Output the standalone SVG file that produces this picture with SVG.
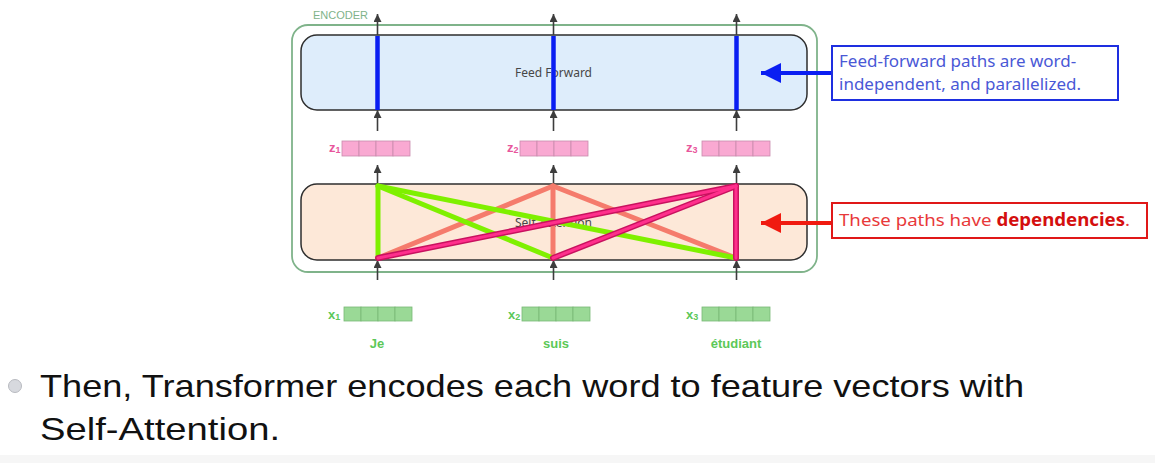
<svg xmlns="http://www.w3.org/2000/svg" width="1155" height="463" viewBox="0 0 1155 463">
<style>
.arr{stroke:#3d3d3d;stroke-width:1.6;fill:none;marker-end:url(#ah)}
.zc{fill:#f9a9d2;stroke:#c98aac;stroke-width:0.8}
.xc{fill:#9ad996;stroke:#79b876;stroke-width:0.8}
.zl{font-family:"Liberation Sans",Arial,sans-serif;font-size:13px;font-weight:bold;fill:#e8569c}
.xl{font-family:"Liberation Sans",Arial,sans-serif;font-size:13px;font-weight:bold;fill:#5cc858}
.word{font-family:"Liberation Sans",Arial,sans-serif;font-size:13px;font-weight:bold;fill:#5cc858;text-anchor:middle}
.box{stroke:#2e2e2e;stroke-width:1.5}
.lbl{font-family:"Noto Sans","Liberation Sans",sans-serif;font-size:12px;fill:#474747;text-anchor:middle}
.green{stroke:#7ff000;stroke-width:5;stroke-linecap:round}
.salmon{stroke:#f57b6c;stroke-width:5;stroke-linecap:round}
.pinko{stroke:#c8125f;stroke-width:6;stroke-linecap:round}
.pinki{stroke:#ff2f8c;stroke-width:3;stroke-linecap:round}
.blue{stroke:#0a1ef2;stroke-width:4.5}
.callout{font-family:"Noto Sans","Liberation Sans",sans-serif;font-size:17px}
</style>
<defs>
<marker id="ah" viewBox="0 0 10 10" refX="10" refY="5" markerWidth="5" markerHeight="5" orient="auto" markerUnits="strokeWidth">
<path d="M0,0 L10,5 L0,10 z" fill="#3d3d3d"/>
</marker>
<marker id="bh" viewBox="0 0 10 10" refX="10" refY="5" markerWidth="7" markerHeight="5" orient="auto" markerUnits="strokeWidth">
<path d="M0,0 L10,5 L0,10 z" fill="#0a1ef2"/>
</marker>
<marker id="rh" viewBox="0 0 10 10" refX="10" refY="5" markerWidth="7" markerHeight="5" orient="auto" markerUnits="strokeWidth">
<path d="M0,0 L10,5 L0,10 z" fill="#f01a10"/>
</marker>
</defs>
<rect width="1155" height="463" fill="#ffffff"/>
<rect x="0" y="455" width="1155" height="8" fill="#f6f6f6"/>

<g id="encoder">
<rect x="292" y="25" width="525" height="247" rx="16" fill="none" stroke="#7fb38a" stroke-width="1.8"/>
<text x="313" y="19" font-family="Liberation Sans,Arial,sans-serif" font-size="11" fill="#7fb38a">ENCODER</text>
</g>

<g id="feed-forward">
<rect class="box" x="301" y="35" width="506" height="75" rx="16" fill="#deedfb"/>
<text class="lbl" x="553.5" y="77">Feed Forward</text>
</g>

<g id="self-attention">
<rect class="box" x="301" y="184" width="506" height="76" rx="16" fill="#fde8d8"/>
<text class="lbl" x="553.5" y="227">Self-Attention</text>
</g>

<g id="z1"><text class="zl" x="329" y="152">z<tspan font-size="9" dy="1">1</tspan></text>
<rect class="zc" x="342" y="141" width="17" height="15"/><rect class="zc" x="359" y="141" width="17" height="15"/><rect class="zc" x="376" y="141" width="17" height="15"/><rect class="zc" x="393" y="141" width="17" height="15"/></g>
<g id="z2"><text class="zl" x="507" y="152">z<tspan font-size="9" dy="1">2</tspan></text>
<rect class="zc" x="520" y="141" width="17" height="15"/><rect class="zc" x="537" y="141" width="17" height="15"/><rect class="zc" x="554" y="141" width="17" height="15"/><rect class="zc" x="571" y="141" width="17" height="15"/></g>
<g id="z3"><text class="zl" x="686" y="152">z<tspan font-size="9" dy="1">3</tspan></text>
<rect class="zc" x="702" y="141" width="17" height="15"/><rect class="zc" x="719" y="141" width="17" height="15"/><rect class="zc" x="736" y="141" width="17" height="15"/><rect class="zc" x="753" y="141" width="17" height="15"/></g>

<g id="x1"><text class="xl" x="328" y="319">x<tspan font-size="9" dy="1">1</tspan></text>
<rect class="xc" x="344" y="307" width="17" height="14"/><rect class="xc" x="361" y="307" width="17" height="14"/><rect class="xc" x="378" y="307" width="17" height="14"/><rect class="xc" x="395" y="307" width="17" height="14"/></g>
<g id="x2"><text class="xl" x="508" y="319">x<tspan font-size="9" dy="1">2</tspan></text>
<rect class="xc" x="522" y="307" width="17" height="14"/><rect class="xc" x="539" y="307" width="17" height="14"/><rect class="xc" x="556" y="307" width="17" height="14"/><rect class="xc" x="573" y="307" width="17" height="14"/></g>
<g id="x3"><text class="xl" x="686" y="319">x<tspan font-size="9" dy="1">3</tspan></text>
<rect class="xc" x="702" y="307" width="17" height="14"/><rect class="xc" x="719" y="307" width="17" height="14"/><rect class="xc" x="736" y="307" width="17" height="14"/><rect class="xc" x="753" y="307" width="17" height="14"/></g>

<g id="words">
<text class="word" x="377" y="348">Je</text>
<text class="word" x="556" y="348">suis</text>
<text class="word" x="736" y="348">étudiant</text>
</g>

<g id="connectors">
<line class="arr" x1="377.5" y1="35" x2="377.5" y2="14"/>
<line class="arr" x1="553.5" y1="35" x2="553.5" y2="14"/>
<line class="arr" x1="736.5" y1="35" x2="736.5" y2="14"/>
<line class="arr" x1="377.5" y1="131" x2="377.5" y2="110"/>
<line class="arr" x1="553.5" y1="131" x2="553.5" y2="110"/>
<line class="arr" x1="736.5" y1="131" x2="736.5" y2="110"/>
<line class="arr" x1="377.5" y1="185" x2="377.5" y2="165"/>
<line class="arr" x1="553.5" y1="185" x2="553.5" y2="165"/>
<line class="arr" x1="736.5" y1="185" x2="736.5" y2="165"/>
<line class="arr" x1="377.5" y1="280" x2="377.5" y2="260"/>
<line class="arr" x1="553.5" y1="280" x2="553.5" y2="260"/>
<line class="arr" x1="736.5" y1="280" x2="736.5" y2="260"/>

<line class="blue" x1="377.5" y1="36" x2="377.5" y2="110"/>
<line class="blue" x1="553.5" y1="36" x2="553.5" y2="110"/>
<line class="blue" x1="736.5" y1="36" x2="736.5" y2="110"/>

<line class="salmon" x1="553" y1="186" x2="378" y2="258"/>
<line class="salmon" x1="553" y1="186" x2="553" y2="258"/>
<line class="salmon" x1="553" y1="186" x2="736" y2="258"/>
<line class="green" x1="378" y1="186" x2="378" y2="258"/>
<line class="green" x1="378" y1="186" x2="553" y2="258"/>
<line class="green" x1="378" y1="186" x2="736" y2="258"/>
<line class="pinko" x1="736" y1="186" x2="378" y2="258"/>
<line class="pinko" x1="736" y1="186" x2="553" y2="258"/>
<line class="pinko" x1="736" y1="186" x2="736" y2="258"/>
<line class="pinki" x1="736" y1="186" x2="378" y2="258"/>
<line class="pinki" x1="736" y1="186" x2="553" y2="258"/>
<line class="pinki" x1="736" y1="186" x2="736" y2="258"/>

<line x1="832" y1="73" x2="761" y2="73" stroke="#0a1ef2" stroke-width="4" marker-end="url(#bh)"/>
<line x1="832" y1="223" x2="761" y2="223" stroke="#f01a10" stroke-width="4" marker-end="url(#rh)"/>
</g>

<g id="callout-ff">
<rect x="832" y="46" width="286" height="54" fill="#ffffff" stroke="#1e2fe0" stroke-width="2"/>
<text class="callout" x="839" y="67" fill="#4a58d6">Feed-forward paths are word-</text>
<text class="callout" x="839" y="90" fill="#4a58d6">independent, and parallelized.</text>
</g>

<g id="callout-sa">
<rect x="832" y="203" width="315" height="35" fill="#ffffff" stroke="#e01818" stroke-width="2"/>
<text class="callout" x="839" y="226" fill="#e8393a" textLength="291" lengthAdjust="spacingAndGlyphs">These paths have <tspan font-weight="bold" fill="#d40f0f">dependencies</tspan>.</text>
</g>

<g id="bullet-text">
<circle cx="15" cy="386" r="6.5" fill="#d7d9de" stroke="#b8bac0" stroke-width="1"/>
<text x="40" y="397" font-family="Liberation Sans,Arial,sans-serif" font-size="32" fill="#111111" textLength="984" lengthAdjust="spacingAndGlyphs">Then, Transformer encodes each word to feature vectors with</text>
<text x="40" y="440" font-family="Liberation Sans,Arial,sans-serif" font-size="32" fill="#111111" textLength="240" lengthAdjust="spacingAndGlyphs">Self-Attention.</text>
</g>
</svg>
